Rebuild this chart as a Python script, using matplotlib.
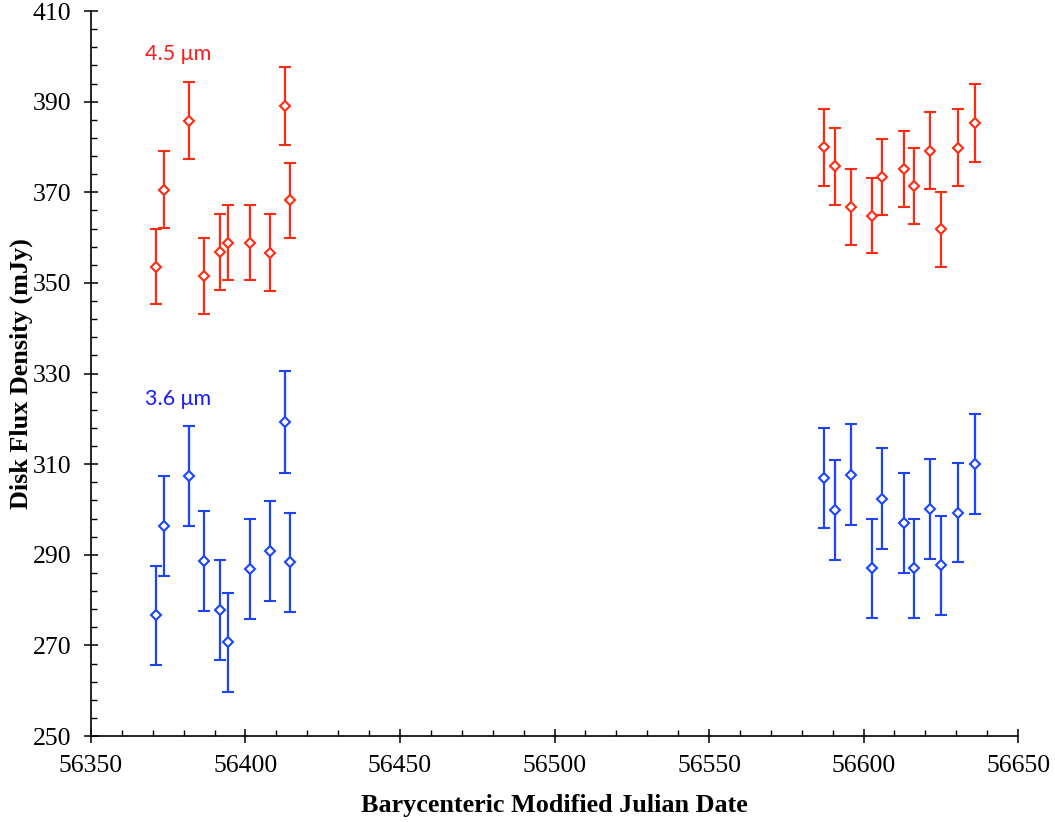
import matplotlib
matplotlib.use("Agg")
import matplotlib.pyplot as plt
import numpy as np
from matplotlib.ticker import MultipleLocator, FixedLocator

# Data
mjd_red = [56371.1, 56373.7, 56381.8, 56386.6, 56391.9, 56394.3, 56401.5, 56408.0, 56412.8, 56414.4,
           56587.3, 56590.9, 56596.0, 56602.6, 56606.1, 56613.0, 56616.2, 56621.4, 56624.9, 56630.7, 56636.2]
flux_45 = [353.6, 370.6, 385.8, 351.6, 356.9, 358.9, 358.9, 356.7, 389.1, 368.2,
           379.9, 375.7, 366.7, 364.8, 373.4, 375.1, 371.3, 379.2, 361.8, 379.8, 385.2]
err_45 = [8.2, 8.4, 8.5, 8.4, 8.4, 8.3, 8.3, 8.4, 8.6, 8.3,
          8.5, 8.4, 8.4, 8.3, 8.4, 8.4, 8.4, 8.5, 8.3, 8.5, 8.6]

mjd_blue = mjd_red
flux_36 = [276.6, 296.4, 307.4, 288.6, 277.8, 270.7, 286.8, 290.8, 319.3, 288.3,
           306.9, 299.9, 307.7, 287.0, 302.4, 297.0, 287.0, 300.1, 287.7, 299.3, 310.0]
err_36 = [11.0, 11.0, 11.1, 11.0, 11.0, 10.9, 11.0, 11.0, 11.2, 11.0,
          11.1, 11.0, 11.1, 10.9, 11.1, 11.0, 10.9, 11.0, 10.9, 11.0, 11.1]

y_major_ticks = [250, 270, 290, 310, 330, 350, 370, 390, 410]

red = "#FF2A12"
blue = "#1C44FF"

fig = plt.figure(figsize=(10.55, 8.22), dpi=100)
ax = fig.add_axes([0.0862, 0.1046, 0.8788, 0.882])

for x, y, e, c in [(mjd_red, flux_45, err_45, red), (mjd_blue, flux_36, err_36, blue)]:
    ax.errorbar(x, y, yerr=e, fmt='D', color=c, mfc='white', mec=c, ms=5.5, mew=1.5,
                ecolor=c, elinewidth=1.6, capsize=4, capthick=1.6, zorder=3)

ax.set_xlim(56350, 56650)
ax.set_ylim(250, 410)
ax.xaxis.set_major_locator(MultipleLocator(50))
ax.xaxis.set_minor_locator(MultipleLocator(10))
ax.yaxis.set_major_locator(FixedLocator(y_major_ticks))
ax.yaxis.set_minor_locator(FixedLocator(np.arange(250, 411, 4)))

for s in ['top', 'right']:
    ax.spines[s].set_visible(False)
for s in ['left', 'bottom']:
    ax.spines[s].set_linewidth(1.2)

ax.tick_params(which='major', direction='inout', length=10, width=1.1, labelsize=18.5)
ax.tick_params(axis='x', which='major', pad=9)
ax.tick_params(axis='y', which='major', pad=9)
ax.tick_params(which='minor', direction='in', length=4, width=1.0)
for lbl in ax.get_xticklabels() + ax.get_yticklabels():
    lbl.set_family('Liberation Serif')

ax.set_xlabel('Barycenteric Modified Julian Date', family='Liberation Serif',
              fontsize=18.8, fontweight='bold', labelpad=12)
ax.set_ylabel('Disk Flux Density (mJy)', family='Liberation Serif',
              fontsize=18.8, fontweight='bold')
ax.yaxis.set_label_coords(-0.062, 0.5)

ax.text(56367.5, 400.5, '4.5 μm', color='#FF1A1A', fontsize=15.5, family=['Lato', 'DejaVu Sans'],
        ha='left', va='center')
ax.text(56367.5, 324.3, '3.6 μm', color='#1A1AFF', fontsize=15.5, family=['Lato', 'DejaVu Sans'],
        ha='left', va='center')

fig.savefig('out.png', dpi=100)
